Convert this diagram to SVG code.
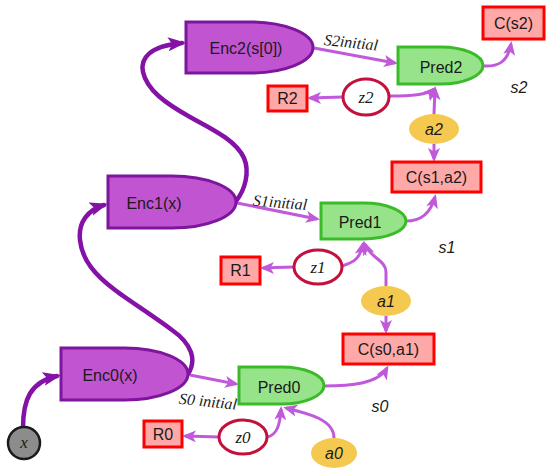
<svg xmlns="http://www.w3.org/2000/svg" width="550" height="475" viewBox="0 0 550 475">
<style>
.enc{fill:#c154d1;stroke:#7d169c;stroke-width:3}
.pred{fill:#97e38a;stroke:#3cbb2a;stroke-width:3}
.red{fill:#ffa8a8;stroke:#ff0000;stroke-width:3}
.z{fill:#ffffff;stroke:#c4103c;stroke-width:3}
.a{fill:#f5c94f;stroke:none}
.c{fill:none;stroke:#c05ada;stroke-width:3;marker-end:url(#ah)}
.t{fill:none;stroke:#8412a6;stroke-width:4.5;stroke-linecap:round;marker-end:url(#ahT)}
.lbl{font-family:"Liberation Sans",Arial,sans-serif;font-size:16px;fill:#1a1a1a;text-anchor:middle}
.it{font-family:"Liberation Sans",Arial,sans-serif;font-size:16px;font-style:italic;fill:#1a1a1a;text-anchor:middle}
.m{font-family:"Liberation Serif","Times New Roman",serif;font-size:17px;font-style:italic;fill:#1a1a1a;text-anchor:middle}
.ini{font-family:"Liberation Serif","Times New Roman",serif;font-size:16px;font-style:italic;fill:#1a1a1a;text-anchor:middle}
</style>
<defs>
<marker id="ah" markerUnits="userSpaceOnUse" markerWidth="14" markerHeight="12" viewBox="0 0 14 12" refX="11" refY="6" orient="auto">
<path d="M0,0 L14,6 L0,12 L3.5,6 Z" fill="#c05ada"/>
</marker>
<marker id="ahT" markerUnits="userSpaceOnUse" markerWidth="18" markerHeight="14" viewBox="0 0 18 14" refX="14" refY="7" orient="auto">
<path d="M0,0 L18,7 L0,14 L4,7 Z" fill="#8412a6"/>
</marker>
</defs>

<g id="connectors">
<path class="c" d="M314,48 L395,63"/>
<path class="c" d="M483,66 C498,67 508,62 511,44"/>
<path class="c" d="M389,96 C410,96 428,95 434,89"/>
<path class="c" d="M434,114 L435,89"/>
<path class="c" d="M434,144 L434,159"/>
<path class="c" d="M343,97 C330,97 320,98 310,98"/>
<path class="c" d="M237,203 L317,219"/>
<path class="c" d="M406,221 C420,221 430,215 435,197"/>
<path class="c" d="M342,266 C355,262 360,258 363,244"/>
<path class="c" d="M386,286 L386,272 C386,260 370,258 365,244"/>
<path class="c" d="M386,316 L386,331"/>
<path class="c" d="M294,267 C280,267 272,268 263,268"/>
<path class="c" d="M190,375 L236,384"/>
<path class="c" d="M324,386 C350,386 378,384 387,368"/>
<path class="c" d="M267,437 C277,435 280,425 281,409"/>
<path class="c" d="M334,438 C334,420 310,414 286,408"/>
<path class="c" d="M219,437 L185,436"/>
<path class="t" d="M23,428 C23,400 30,382 57,376"/>
<path class="t" d="M188,374 C197,360 192,344 172,330 C152,315 128,300 115,290 C95,275 82,260 80,240 C78,222 88,210 104,205"/>
<path class="t" d="M236,201 C245,190 250,172 244,158 C236,140 210,128 190,117 C165,103 147,90 143,72 C140,58 150,46 182,43"/>
</g>

<g id="x"><circle cx="24" cy="443" r="16" fill="#8c8c8c" stroke="#1a1a1a" stroke-width="2.5"/><text class="m" x="24" y="443" dy="0.3em">x</text></g>

<g id="enc2"><path class="enc" d="M186,22 H249.5 A63.5,25.5 0 0 1 249.5,73 H186 Z"/><text class="lbl" x="246" y="48" dy="0.35em">Enc2(s[0])</text></g>
<g id="enc1"><path class="enc" d="M108,176 H172 A64,26 0 0 1 172,228 H108 Z"/><text class="lbl" x="154" y="203" dy="0.35em">Enc1(x)</text></g>
<g id="enc0"><path class="enc" d="M61,348 H124.5 A63.5,26 0 0 1 124.5,400 H61 Z"/><text class="lbl" x="110" y="375" dy="0.35em">Enc0(x)</text></g>

<g id="pred2"><path class="pred" d="M398,47 H440.5 A42.5,18.5 0 0 1 440.5,84 H398 Z"/><text class="lbl" x="441" y="67" dy="0.35em">Pred2</text></g>
<g id="pred1"><path class="pred" d="M321,203 H363.5 A42.5,18 0 0 1 363.5,239 H321 Z"/><text class="lbl" x="360" y="222" dy="0.35em">Pred1</text></g>
<g id="pred0"><path class="pred" d="M239,367 H281.5 A42.5,18.5 0 0 1 281.5,404 H239 Z"/><text class="lbl" x="279" y="387" dy="0.35em">Pred0</text></g>

<g id="cs2"><rect class="red" x="483" y="7" width="61" height="32"/><text class="lbl" x="513.5" y="23" dy="0.35em">C(s2)</text></g>
<g id="cs1a2"><rect class="red" x="392" y="162" width="89" height="30"/><text class="lbl" x="436.5" y="177" dy="0.35em">C(s1,a2)</text></g>
<g id="cs0a1"><rect class="red" x="343" y="334" width="91" height="30"/><text class="lbl" x="388.5" y="349" dy="0.35em">C(s0,a1)</text></g>

<g id="r2"><rect class="red" x="268" y="86" width="39" height="25"/><text class="lbl" x="287.5" y="98.5" dy="0.35em">R2</text></g>
<g id="r1"><rect class="red" x="221" y="257" width="39" height="27"/><text class="lbl" x="240.5" y="270.5" dy="0.35em">R1</text></g>
<g id="r0"><rect class="red" x="144" y="421" width="38" height="26"/><text class="lbl" x="163" y="434" dy="0.35em">R0</text></g>

<g id="z2"><ellipse class="z" cx="366" cy="97" rx="23" ry="18"/><text class="m" x="366" y="97" dy="0.33em">z2</text></g>
<g id="z1"><ellipse class="z" cx="318" cy="267" rx="24" ry="17"/><text class="m" x="318" y="267" dy="0.33em">z1</text></g>
<g id="z0"><ellipse class="z" cx="243" cy="437" rx="24" ry="17"/><text class="m" x="243" y="437" dy="0.33em">z0</text></g>

<g id="a2"><ellipse class="a" cx="434" cy="129" rx="25" ry="15"/><text class="it" x="434" y="129" dy="0.35em">a2</text></g>
<g id="a1"><ellipse class="a" cx="386" cy="301" rx="25" ry="15"/><text class="it" x="386" y="301" dy="0.35em">a1</text></g>
<g id="a0"><ellipse class="a" cx="334" cy="453" rx="23" ry="15"/><text class="it" x="334" y="453" dy="0.35em">a0</text></g>

<g id="labels">
<text class="it" x="519" y="87" dy="0.35em">s2</text>
<text class="it" x="447" y="247" dy="0.35em">s1</text>
<text class="it" x="380" y="406" dy="0.35em">s0</text>
<text class="ini" transform="translate(351,43) rotate(6)" dy="0.3em">S2initial</text>
<text class="ini" transform="translate(280,203) rotate(5)" dy="0.3em">S1initial</text>
<text class="ini" transform="translate(208,402) rotate(6)" dy="0.3em">S0 initial</text>
</g>
</svg>
